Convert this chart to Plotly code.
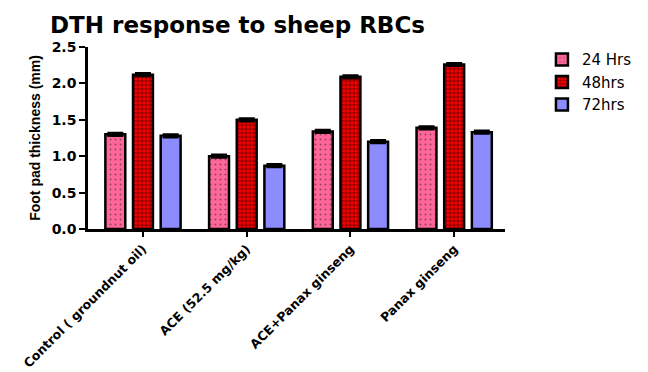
import plotly.graph_objects as go

# Treatment groups and mean foot-pad thickness (mm) at each reading time
groups = ["Control ( groundnut oil)", "ACE (52.5 mg/kg)", "ACE+Panax ginseng", "Panax ginseng"]
hrs24 = [1.30, 1.00, 1.34, 1.39]
hrs48 = [2.12, 1.50, 2.09, 2.26]
hrs72 = [1.28, 0.87, 1.20, 1.33]
err24 = [0.015, 0.015, 0.015, 0.015]
err48 = [0.015, 0.015, 0.015, 0.015]
err72 = [0.015, 0.015, 0.015, 0.015]
y_ticks = [0.0, 0.5, 1.0, 1.5, 2.0, 2.5]

series = [
    ("24 Hrs", hrs24, err24, dict(shape=".", bgcolor="#FF6699", fgcolor="#222222", size=5, solidity=0.12)),
    ("48hrs", hrs48, err48, dict(shape="+", bgcolor="#FF0000", fgcolor="#000000", size=4, solidity=0.45)),
    ("72hrs", hrs72, err72, dict(shape="", bgcolor="#8C8CFF", fgcolor="#8C8CFF")),
]

fig = go.Figure()
for name, vals, errs, pat in series:
    fig.add_trace(go.Bar(
        name=name,
        x=groups,
        y=vals,
        marker=dict(color=pat["bgcolor"], pattern=pat,
                    line=dict(color="black", width=2.5)),
        error_y=dict(type="data", array=errs, visible=True,
                     color="black", thickness=3, width=8),
    ))

fig.update_layout(
    width=648, height=372,
    barmode="group", bargap=0.2, bargroupgap=0.28,
    plot_bgcolor="white", paper_bgcolor="white",
    margin=dict(l=88, r=142, t=47, b=143),
    title=dict(text="<b>DTH response to sheep RBCs</b>", x=50 / 648, xanchor="left",
               y=1 - 25 / 372, yanchor="middle",
               font=dict(family="DejaVu Sans", size=23, color="black")),
    font=dict(family="Liberation Sans", color="black"),
    legend=dict(x=1.086, xanchor="left", y=1.02, yanchor="top",
                font=dict(family="DejaVu Sans", size=15, color="black"),
                bgcolor="rgba(0,0,0,0)", tracegroupgap=0),
    showlegend=True,
)
fig.update_xaxes(
    showline=True, linecolor="black", linewidth=2.5,
    ticks="outside", ticklen=5, tickwidth=2, tickcolor="black",
    tickangle=-45, range=[-0.53, 3.49], automargin=False,
    tickfont=dict(family="DejaVu Sans", size=12.5, color="black", weight="bold"),
    showgrid=False, zeroline=False,
)
fig.update_yaxes(
    range=[0, 2.5], tickvals=y_ticks, ticktext=[f"{v:.1f}" for v in y_ticks],
    showline=True, linecolor="black", linewidth=2.5, automargin=False,
    ticks="outside", ticklen=6, tickwidth=2, tickcolor="black",
    tickfont=dict(family="DejaVu Sans", size=14, color="black", weight="bold"),
    title=dict(text="<b>Foot pad thickness (mm)</b>", standoff=8,
               font=dict(family="Liberation Sans", size=14, color="black")),
    showgrid=False, zeroline=False,
)

fig.write_html("out.html")
